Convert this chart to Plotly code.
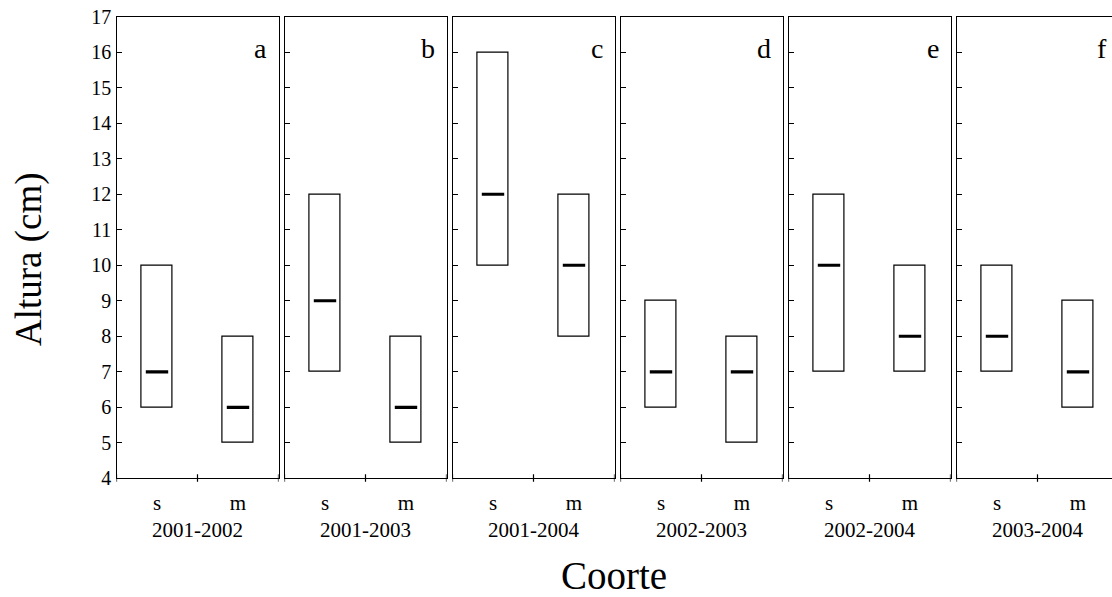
import plotly.graph_objects as go

# Height ranges (cm) per cohort pair: s and m groups
periods = ["2001-2002", "2001-2003", "2001-2004", "2002-2003", "2002-2004", "2003-2004"]
panel_letters = ["a", "b", "c", "d", "e", "f"]
group_labels = ["s", "m"]

s_min = [6, 7, 10, 6, 7, 7]
s_max = [10, 12, 16, 9, 12, 10]
s_med = [7, 9, 12, 7, 10, 8]

m_min = [5, 5, 8, 5, 7, 6]
m_max = [8, 8, 12, 8, 10, 9]
m_med = [6, 6, 10, 7, 8, 7]

y_ticks = list(range(4, 18))

W, H = 1112, 597
FONT = "Liberation Serif, Times New Roman, serif"

# panel geometry in pixels
plot_top, plot_bottom = 16.7, 478.3
panel_left0, panel_w, panel_step = 116.5, 162.0, 168.0
units_per_px = 4.0 / panel_w
plot_h = plot_bottom - plot_top


def py(px):
    return 1 - px / H


fig = go.Figure()
layout = dict(
    width=W, height=H,
    margin=dict(l=0, r=0, t=0, b=0, autoexpand=False),
    paper_bgcolor="white", plot_bgcolor="white",
    showlegend=False,
    font=dict(family=FONT, color="black", size=20),
    bargap=0,
)
shapes = []
annotations = []

for i, period in enumerate(periods):
    n = "" if i == 0 else str(i + 1)
    left = panel_left0 + panel_step * i
    right = left + panel_w
    last = right > W
    right_clip = min(right, W)
    x_hi = (right_clip - left) * units_per_px

    xs = [1, 3]
    mins = [s_min[i], m_min[i]]
    maxs = [s_max[i], m_max[i]]
    meds = [s_med[i], m_med[i]]

    fig.add_trace(go.Bar(
        x=xs, base=mins, y=[hi - lo for hi, lo in zip(maxs, mins)],
        width=0.765,
        marker=dict(color="white", line=dict(color="black", width=1.2)),
        xaxis="x" + n, yaxis="y" + n, hoverinfo="skip",
    ))
    fig.add_trace(go.Scatter(
        x=xs, y=meds, mode="markers",
        marker=dict(symbol="line-ew", size=16, color="black",
                    line=dict(color="black", width=3.2)),
        xaxis="x" + n, yaxis="y" + n, hoverinfo="skip",
    ))

    layout["xaxis" + n] = dict(
        domain=[left / W, right_clip / W], range=[0, x_hi],
        anchor="y" + n, automargin=False,
        showgrid=False, zeroline=False,
        showline=True, linecolor="black", linewidth=1.3, mirror=True,
        tickmode="array", tickvals=xs, ticktext=group_labels,
        ticks="", ticklabelstandoff=5,
        tickfont=dict(family=FONT, size=21, color="black"),
    )
    layout["yaxis" + n] = dict(
        domain=[py(plot_bottom), py(plot_top)], range=[4, 17],
        anchor="x" + n, automargin=False,
        showgrid=False, zeroline=False,
        showline=True, linecolor="black", linewidth=1.3,
        mirror=not last,
        tickmode="array", tickvals=y_ticks,
        ticks="inside", ticklen=5, tickwidth=1, tickcolor="black",
        showticklabels=(i == 0),
        tickfont=dict(family=FONT, size=20, color="black"),
    )

    # crossing tick marks on the bottom axis
    for xv in [0, 2, 4]:
        if xv <= x_hi:
            shapes.append(dict(
                type="line", xref="x" + n, yref="y" + n + " domain",
                x0=xv, x1=xv, y0=-3.5 / plot_h, y1=4 / plot_h,
                line=dict(color="black", width=1.2),
            ))

    # period label under each panel
    annotations.append(dict(
        text=period, xref="paper", yref="paper",
        x=(left + panel_w / 2) / W, y=py(530),
        xanchor="center", yanchor="middle", showarrow=False,
        font=dict(family=FONT, size=21, color="black"),
    ))
    # panel letter
    annotations.append(dict(
        text=panel_letters[i], xref="paper", yref="paper",
        x=(right - 10) / W, y=py(48),
        xanchor="right", yanchor="middle", showarrow=False,
        font=dict(family=FONT, size=28, color="black"),
    ))

annotations.append(dict(
    text="Altura (cm)", xref="paper", yref="paper",
    x=29 / W, y=py(259), textangle=-90,
    xanchor="center", yanchor="middle", showarrow=False,
    font=dict(family=FONT, size=37, color="black"),
))
annotations.append(dict(
    text="Coorte", xref="paper", yref="paper",
    x=614 / W, y=py(575),
    xanchor="center", yanchor="middle", showarrow=False,
    font=dict(family=FONT, size=39, color="black"),
))

layout["shapes"] = shapes
layout["annotations"] = annotations
fig.update_layout(**layout)
fig.write_html("out.html")
